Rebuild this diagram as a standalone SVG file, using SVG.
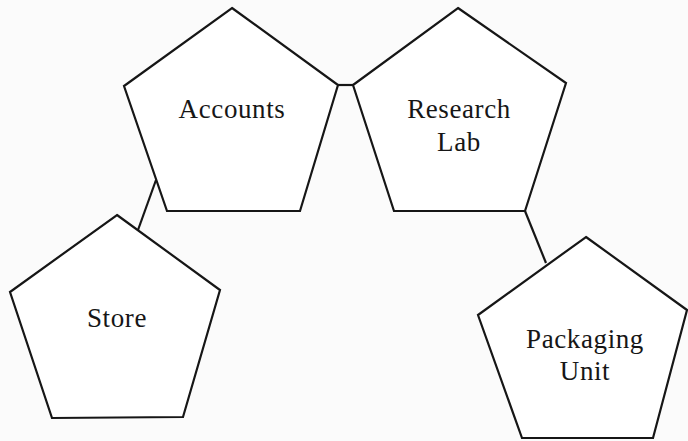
<svg xmlns="http://www.w3.org/2000/svg" width="688" height="441" viewBox="0 0 688 441">
<style>
.node{fill:#ffffff;stroke:#161616;stroke-width:2.2;stroke-linejoin:miter}
.lbl{font-family:"Liberation Serif","DejaVu Serif",serif;font-size:27px;letter-spacing:0.6px;fill:#161616;text-anchor:middle}
.conn{stroke:#161616;stroke-width:2.2;fill:none}
</style>
<rect width="688" height="441" fill="#fbfbfb"/>
<g id="connectors">
<line class="conn" x1="338" y1="85" x2="354" y2="85"/>
<line class="conn" x1="156" y1="180" x2="138" y2="230"/>
<line class="conn" x1="525" y1="211" x2="546" y2="263"/>
</g>
<g id="accounts">
<polygon class="node" points="232,8 338,85 300,211 167,211 124,86"/>
<text class="lbl" x="232" y="118">Accounts</text>
</g>
<g id="research-lab">
<polygon class="node" points="458,8 566,83 525,211 394,211 353,85"/>
<text class="lbl" x="459" y="118">Research</text>
<text class="lbl" x="459" y="151">Lab</text>
</g>
<g id="store">
<polygon class="node" points="117,215 220,290 183,417 52,418 10,292"/>
<text class="lbl" x="117" y="327">Store</text>
</g>
<g id="packaging-unit">
<polygon class="node" points="586,237 687,310 653,438 522,438 478,315"/>
<text class="lbl" x="585" y="348">Packaging</text>
<text class="lbl" x="585" y="380">Unit</text>
</g>
</svg>
